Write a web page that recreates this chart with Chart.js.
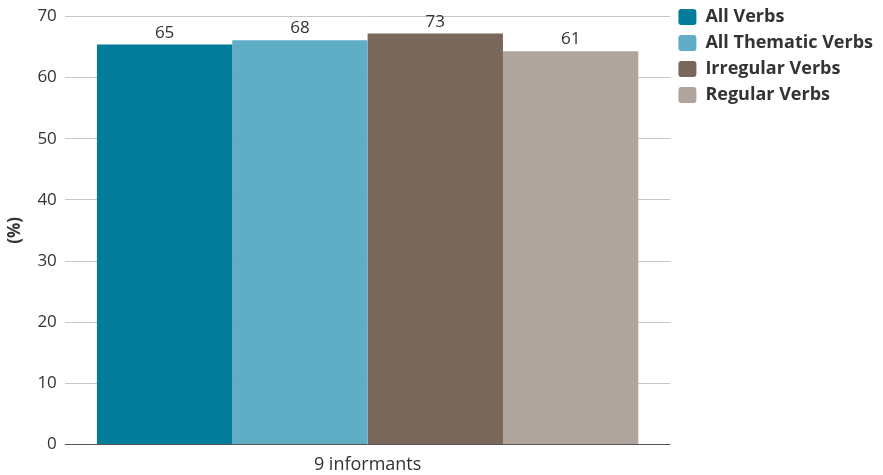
<!DOCTYPE html>
<html>
<head>
<meta charset="utf-8">
<script src="https://cdn.jsdelivr.net/npm/chart.js@4/dist/chart.umd.min.js"></script>
<style>
  html, body { margin: 0; padding: 0; background: #fff; }
  #wrap { width: 883px; height: 475px; position: relative; }
</style>
</head>
<body>
<div id="wrap"><canvas id="chart"></canvas></div>
<script>
// data
const categories   = ['9 informants'];
const seriesNames  = ['All Verbs', 'All Thematic Verbs', 'Irregular Verbs', 'Regular Verbs'];
const barHeights   = [65.4, 66.1, 67.2, 64.3];   // drawn height of each bar
const valueLabels  = ['65', '68', '73', '61'];   // printed above each bar
const seriesColors = ['#017c9a', '#60aec6', '#79675c', '#b0a59c'];
const yTicks       = [0, 10, 20, 30, 40, 50, 60, 70];

const FONT = "'Open Sans', 'Noto Sans', sans-serif";

// prints the value text over each bar
const barValues = {
    id: 'barValues',
    afterDatasetsDraw(chart) {
        const ctx = chart.ctx;
        ctx.save();
        ctx.font = `17px ${FONT}`;
        ctx.fillStyle = '#333';
        ctx.textAlign = 'center';
        ctx.textBaseline = 'alphabetic';
        chart.data.datasets.forEach((ds, i) => {
            const bar = chart.getDatasetMeta(i).data[0];
            if (!bar) return;
            ctx.fillText(valueLabels[i], bar.x, bar.y - 7);
        });
        ctx.restore();
    }
};

new Chart(document.getElementById('chart'), {
    type: 'bar',
    data: {
        labels: categories,
        datasets: seriesNames.map((name, i) => ({
            label: name,
            data: [barHeights[i]],
            backgroundColor: seriesColors[i],
            borderWidth: 0,
            barPercentage: 1,
            categoryPercentage: 0.894,
        })),
    },
    options: {
        responsive: true,
        maintainAspectRatio: false,
        animation: false,
        layout: { padding: { top: 0, right: 0, bottom: -3, left: 5 } },
        plugins: {
            tooltip: { enabled: false },
            legend: {
                position: 'right',
                align: 'start',
                labels: {
                    boxWidth: 18,
                    boxHeight: 16,
                    padding: 8,
                    color: '#333',
                    font: { family: FONT, size: 18, weight: 'bold' },
                    useBorderRadius: true,
                    borderRadius: 3,
                },
            },
        },
        scales: {
            x: {
                grid: { display: false },
                border: { display: false },
                ticks: {
                    color: '#333',
                    font: { family: FONT, size: 18 },
                    padding: 2,
                },
            },
            y: {
                min: 0,
                max: 70,
                afterBuildTicks(axis) {
                    axis.ticks = yTicks.map(v => ({ value: v }));
                },
                grid: {
                    color: ctx => ctx.tick && ctx.tick.value === 0 ? '#555' : '#c8c8c8',
                    lineWidth: 1,
                    drawTicks: false,
                },
                border: { display: false },
                ticks: {
                    color: '#333',
                    font: { family: FONT, size: 17, lineHeight: 1 },
                    padding: 8,
                },
                title: {
                    display: true,
                    text: '(%)',
                    color: '#333',
                    font: { family: FONT, size: 17, weight: 'bold' },
                    padding: { top: 0, bottom: 4 },
                },
            },
        },
    },
    plugins: [barValues],
});
</script>
</body>
</html>
